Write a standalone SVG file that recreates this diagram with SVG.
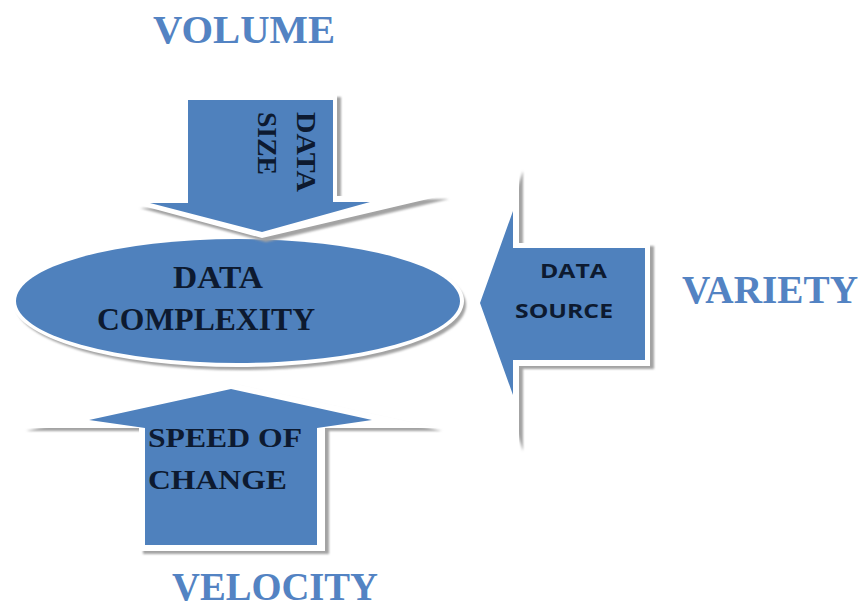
<svg xmlns="http://www.w3.org/2000/svg" width="864" height="613" viewBox="0 0 864 613">
  <defs>
    <style>
      .shadow { fill: #a3a3a3; filter: url(#soft); }
      .rim { fill: #ffffff; }
      .body { fill: #4f81bd; }
      .title { font-weight: bold; fill: #5383c3; font-size: 40px; }
      .label { font-weight: bold; fill: #0d1a30; }
      .sans { font-weight: bold; fill: #0d1a30; }
    </style>
    <filter id="soft" x="-10%" y="-10%" width="120%" height="120%">
      <feGaussianBlur stdDeviation="1"/>
    </filter>
  </defs>

  <rect width="864" height="613" fill="#ffffff"/>

  <!-- central ellipse -->
  <g id="data-complexity" font-family="'Liberation Serif', 'Times New Roman', serif">
    <ellipse class="shadow" cx="241" cy="305" rx="225" ry="65"/>
    <ellipse class="rim" cx="238" cy="301" rx="226" ry="66"/>
    <ellipse class="body" cx="238" cy="301" rx="222" ry="62"/>
    <text class="label" x="173" y="288" font-size="31" textLength="90" lengthAdjust="spacingAndGlyphs">DATA</text>
    <text class="label" x="97" y="330" font-size="31" textLength="218" lengthAdjust="spacingAndGlyphs">COMPLEXITY</text>
  </g>

  <!-- downward arrow: volume -->
  <g id="volume" font-family="'Liberation Serif', 'Times New Roman', serif">
    <polygon class="shadow" transform="translate(4,4)" points="180,93 337,93 337,196 445,195 262,238 136,204 180,204"/>
    <polygon class="rim" points="180,93 337,93 337,196 445,195 262,238 136,204 180,204"/>
    <polygon class="body" points="188,100 333,100 333,202 370,202 262,232 150,203 188,203"/>
    <text class="label" font-size="28" transform="translate(297,112) rotate(90)" textLength="80" lengthAdjust="spacingAndGlyphs">DATA</text>
    <text class="label" font-size="28" transform="translate(258,112) rotate(90)" textLength="63" lengthAdjust="spacingAndGlyphs">SIZE</text>
    <text class="title" x="153" y="43" textLength="182" lengthAdjust="spacingAndGlyphs">VOLUME</text>
  </g>

  <!-- leftward arrow: variety -->
  <g id="variety" font-family="'Liberation Serif', 'Times New Roman', serif">
    <polygon class="shadow" transform="translate(4,3)" points="474,303 519,168 519,243 650,243 650,366 519,366 519,448"/>
    <polygon class="rim" points="474,303 519,168 519,243 650,243 650,366 519,366 519,448"/>
    <polygon class="body" points="480,303 513,211 513,248 645,248 645,360 513,360 513,395"/>
    <text class="sans" font-family="'Open Sans', 'Liberation Sans', Arial, sans-serif" x="540" y="278" font-size="20" textLength="67" lengthAdjust="spacingAndGlyphs">DATA</text>
    <text class="sans" font-family="'Open Sans', 'Liberation Sans', Arial, sans-serif" x="515" y="318" font-size="20" textLength="98" lengthAdjust="spacingAndGlyphs">SOURCE</text>
    <text class="title" x="682" y="303" textLength="176" lengthAdjust="spacingAndGlyphs">VARIETY</text>
  </g>

  <!-- upward arrow: velocity -->
  <g id="velocity" font-family="'Liberation Serif', 'Times New Roman', serif">
    <polygon class="shadow" transform="translate(4,3)" points="231,383 438,428 325,428 325,551 139,551 139,428 22,428"/>
    <polygon class="rim" points="231,383 438,428 325,428 325,551 139,551 139,428 22,428"/>
    <polygon class="body" points="231,389 372,420 317,428 317,545 145,545 145,428 89,420"/>
    <text class="label" x="148" y="447" font-size="27" textLength="154" lengthAdjust="spacingAndGlyphs">SPEED OF</text>
    <text class="label" x="148" y="489" font-size="27" textLength="139" lengthAdjust="spacingAndGlyphs">CHANGE</text>
    <text class="title" x="172" y="600" font-size="38" textLength="206" lengthAdjust="spacingAndGlyphs">VELOCITY</text>
  </g>
</svg>
